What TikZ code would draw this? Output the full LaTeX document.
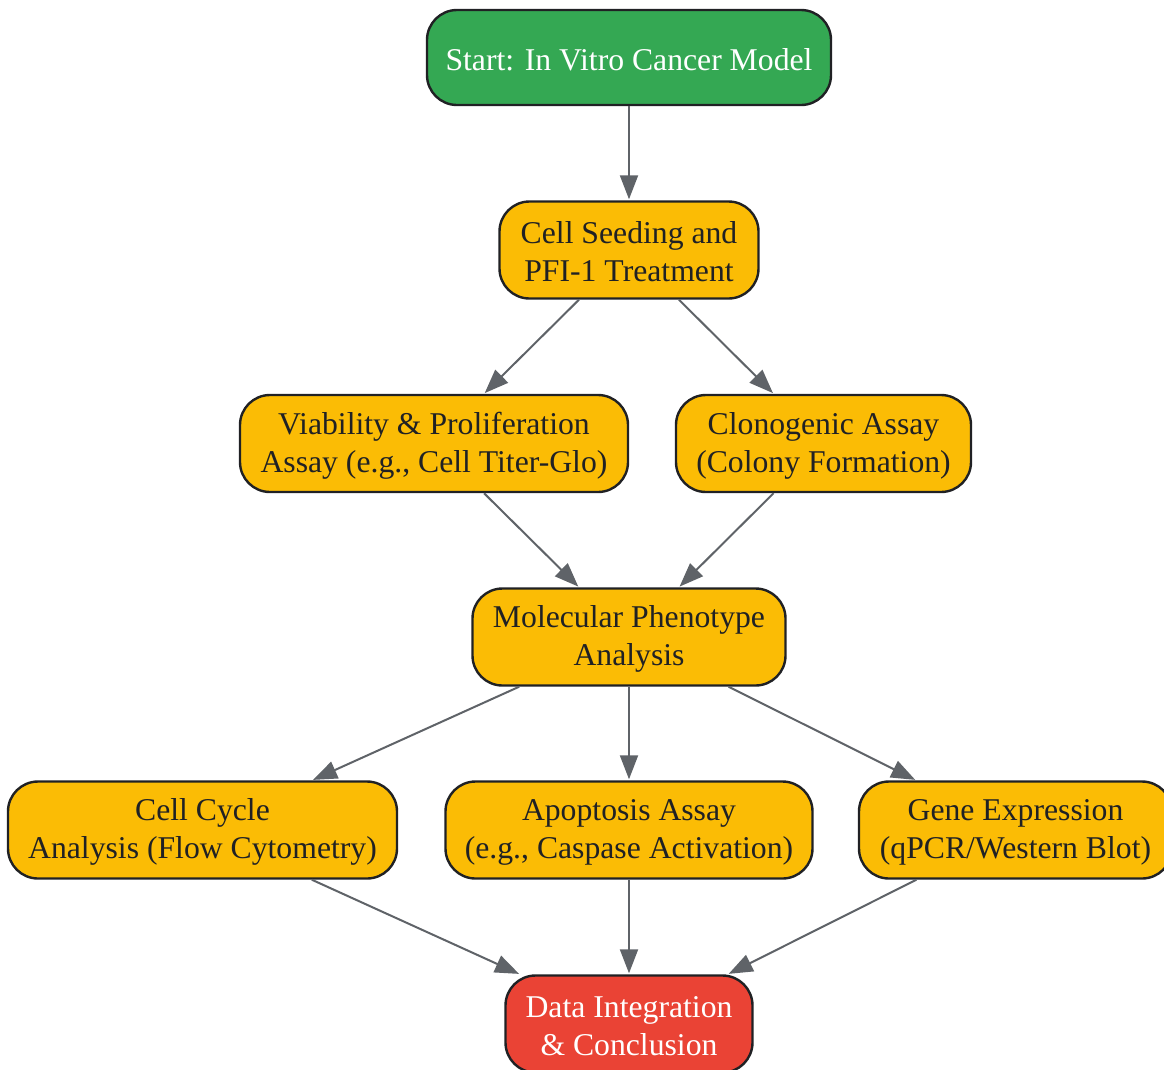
\documentclass[tikz,border=0pt]{standalone}
\usepackage{fontspec}
\setmainfont{Liberation Serif}
\usetikzlibrary{arrows.meta}
\definecolor{cgreen}{HTML}{34A853}
\definecolor{cyellow}{HTML}{FBBC05}
\definecolor{cred}{HTML}{EA4335}
\definecolor{cborder}{HTML}{202124}
\definecolor{cdark}{HTML}{202124}
\definecolor{carrow}{HTML}{5F6368}
\begin{document}
\begin{tikzpicture}[x=1pt,y=-1pt,
  box/.style={draw=cborder, line width=2.4pt, rectangle, rounded corners=30pt,
    inner sep=0pt, minimum height=97pt},
  ybox/.style={box, fill=cyellow},
  gbox/.style={box, fill=cgreen},
  rbox/.style={box, fill=cred},
  tlab/.style={align=center, font=\fontsize{31.7}{38}\selectfont, inner sep=0pt, yshift=-2pt},
  dlab/.style={tlab, text=cdark},
  wlab/.style={tlab, text=white},
  arr/.style={draw=carrow, line width=2pt, -{Triangle[length=24pt,width=18pt]}, shorten >=1pt}
]
\useasboundingbox (0,0) rectangle (1164,1069);
\node[gbox, minimum width=404pt, minimum height=95pt,
  label={[wlab]center:Start: In Vitro Cancer Model}] (start) at (629,57.5) {};
\node[ybox, minimum width=259pt,
  label={[dlab]center:Cell Seeding and\\PFI-1 Treatment}] (seed) at (629,250) {};
\node[ybox, minimum width=388pt,
  label={[dlab]center:Viability \& Proliferation\\Assay (e.g., Cell Titer-Glo)}] (via) at (434,443.5) {};
\node[ybox, minimum width=295pt,
  label={[dlab]center:Clonogenic Assay\\(Colony Formation)}] (clono) at (823.5,443.5) {};
\node[ybox, minimum width=313pt,
  label={[dlab]center:Molecular Phenotype\\Analysis}] (mol) at (629,637) {};
\node[ybox, minimum width=389pt,
  label={[dlab]center:Cell Cycle\\Analysis (Flow Cytometry)}] (cyc) at (202.5,830) {};
\node[ybox, minimum width=367pt,
  label={[dlab]center:Apoptosis Assay\\(e.g., Caspase Activation)}] (apo) at (629,830) {};
\node[ybox, minimum width=313pt,
  label={[dlab]center:Gene Expression\\(qPCR/Western Blot)}] (gene) at (1015.5,830) {};
\node[rbox, minimum width=247pt,
  label={[wlab]center:Data Integration\\\& Conclusion}] (data) at (629,1024) {};
\draw[arr] (start) -- (seed);
\draw[arr] (seed) -- (via);
\draw[arr] (seed) -- (clono);
\draw[arr] (via) -- (mol);
\draw[arr] (clono) -- (mol);
\draw[arr] (mol) -- (cyc);
\draw[arr] (mol) -- (apo);
\draw[arr] (mol) -- (gene);
\draw[arr] (cyc) -- (data);
\draw[arr] (apo) -- (data);
\draw[arr] (gene) -- (data);
\end{tikzpicture}
\end{document}
